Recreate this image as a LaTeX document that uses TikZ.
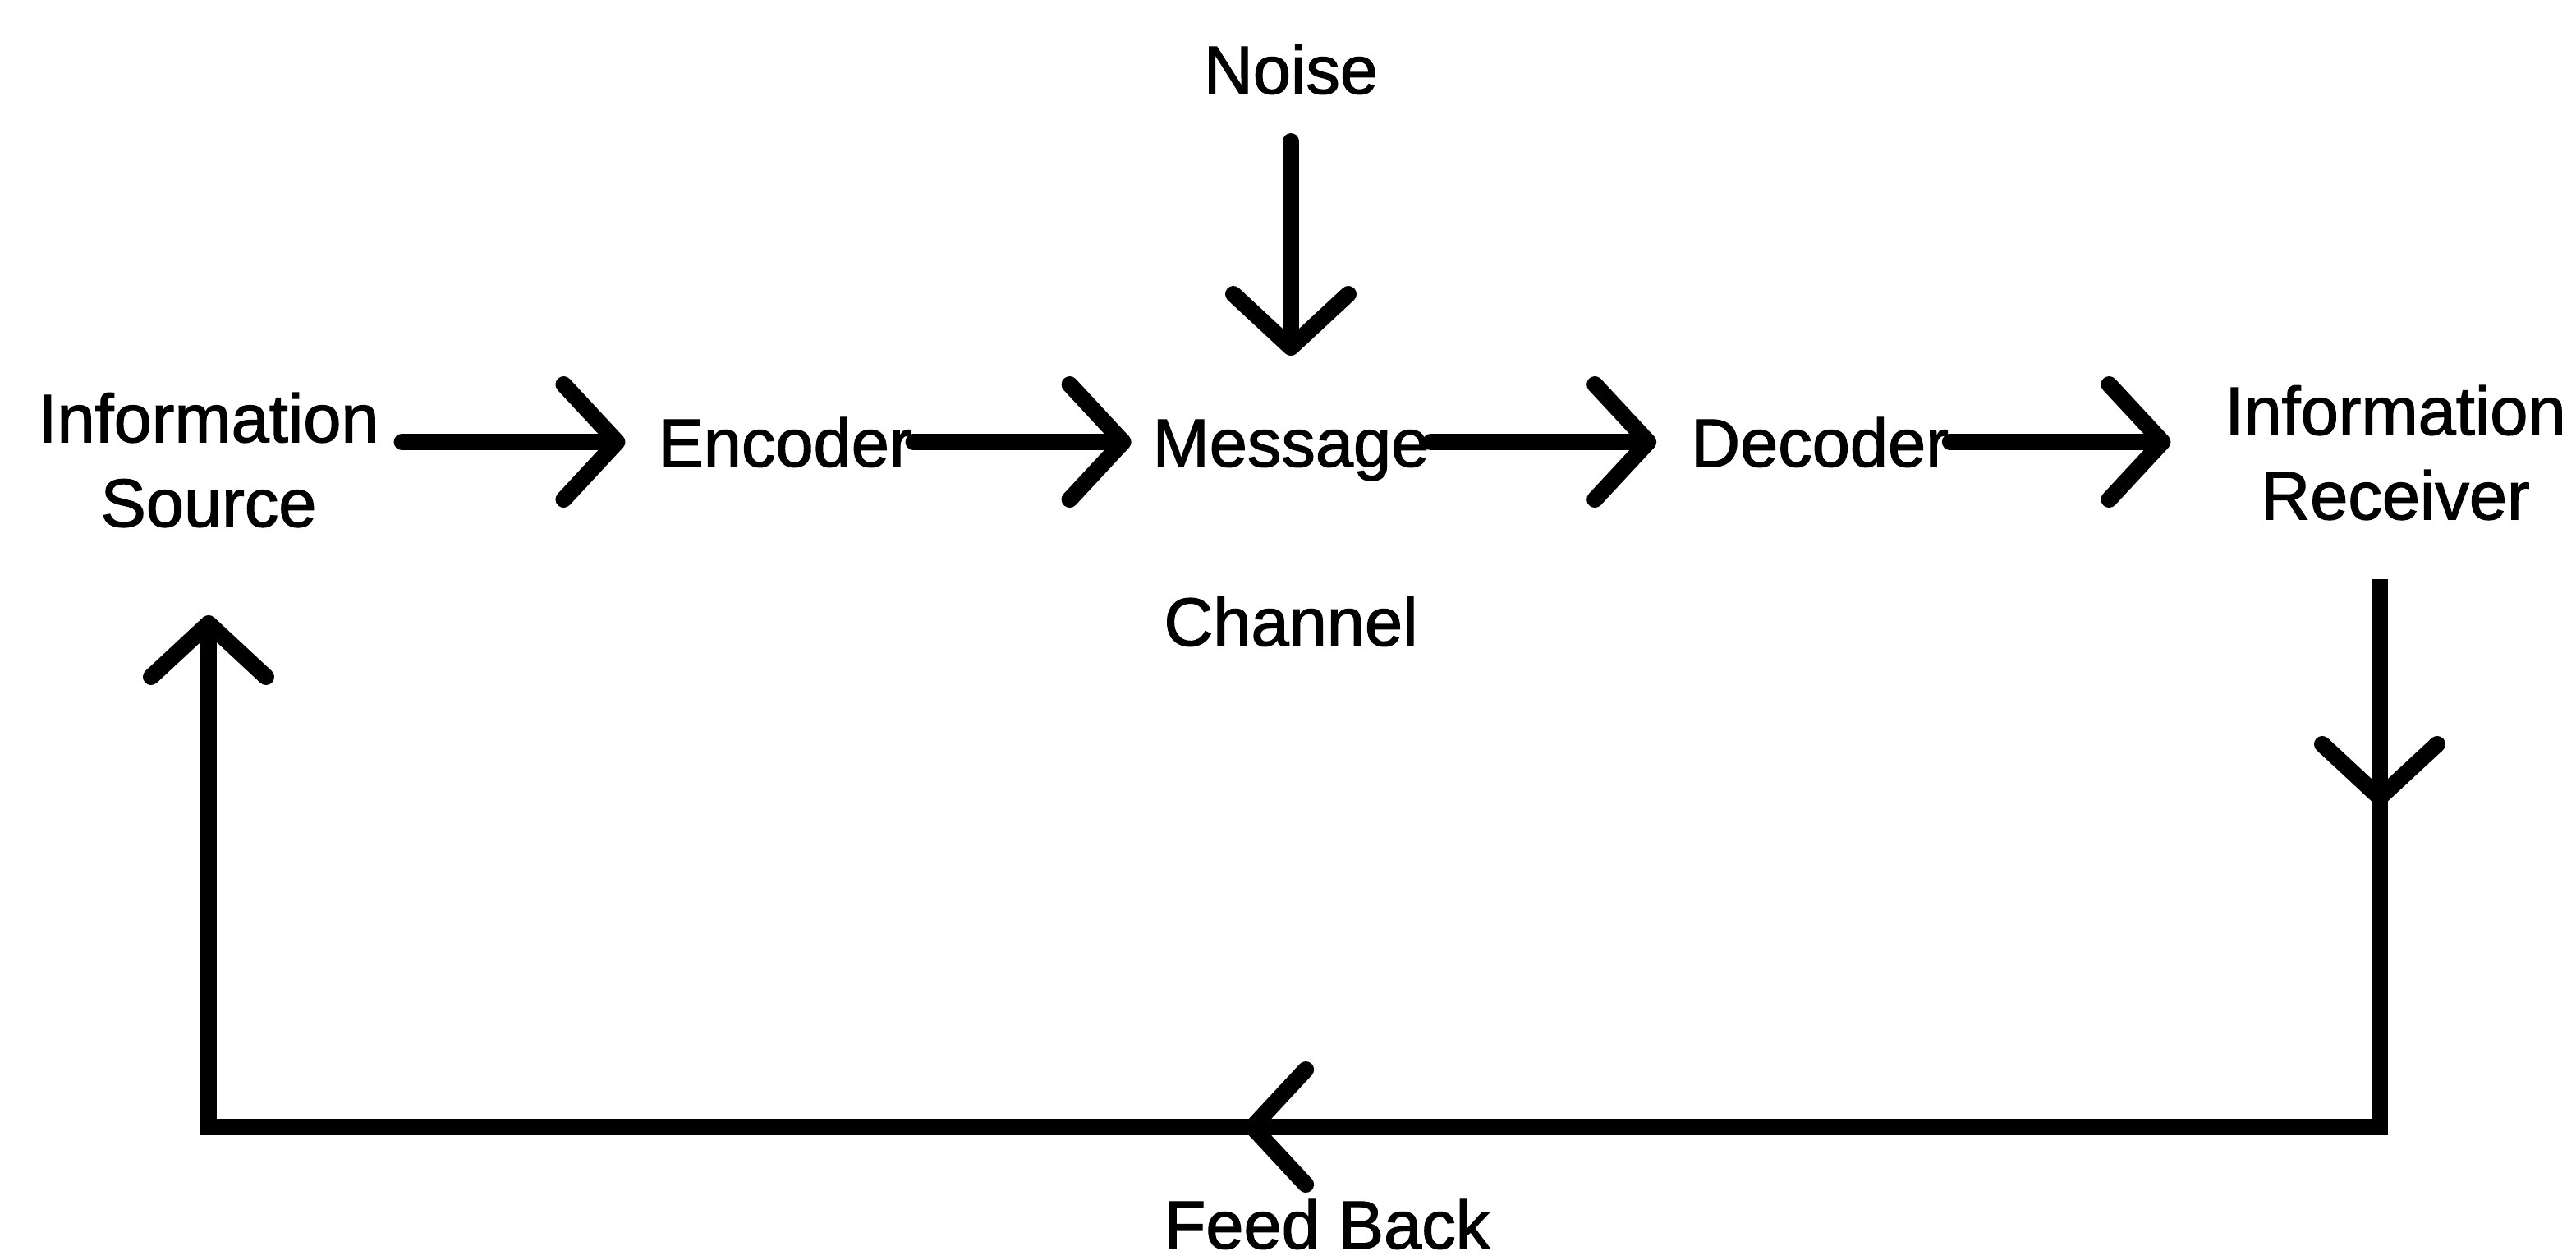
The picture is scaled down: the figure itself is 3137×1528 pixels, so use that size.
\documentclass[tikz,border=0pt]{standalone}
\usepackage{fontspec}
\setmainfont{Liberation Sans}[FakeBold=1.5]
\usetikzlibrary{arrows.meta,decorations.markings,calc}
\begin{document}
\begin{tikzpicture}[x=0.1pt,y=-0.1pt,
  lbl/.style={inner sep=0pt, font=\fontsize{8.3pt}{10.3pt}\selectfont, text height=6pt, text depth=0pt},
  lbltwo/.style={inner sep=0pt, font=\fontsize{8.3pt}{10.3pt}\selectfont, align=center},
  vtip/.tip={Straight Barb[length=6.5pt,width=14pt,round]},
  conn/.style={line width=2pt, line cap=round},
  arr/.style={conn,-vtip},
]
\useasboundingbox (0,0) rectangle (3137,1528);

\node[lbl] (noise) at (1572,84) {Noise};
\node[lbltwo] (src) at (254,560) {Information\\Source};
\node[lbl] (enc) at (956,538) {Encoder};
\node[lbl] (msg) at (1572,538) {Message};
\node[lbl] (dec) at (2216,538) {Decoder};
\node[lbltwo] (rcv) at (2917,551) {Information\\Receiver};
\node[lbl] (chan) at (1572,756) {Channel};
\node[lbl] (fb) at (1616,1490) {Feed Back};

\coordinate (fbR) at (2898,1372);
\coordinate (fbL) at (254,1372);

\draw[arr, shorten <=2.6pt, shorten >=3.8pt] (src.east |- enc.west) -- (enc.west);
\draw[arr, shorten >=2.4pt] (enc.east) -- (msg.west);
\draw[arr, shorten >=4pt] (msg.east) -- (dec.west);
\draw[arr, shorten >=6.4pt] (dec.east) -- (rcv.west |- dec.east);
\draw[arr, shorten <=5.6pt, shorten >=7.3pt] (noise) -- (msg);

\draw[arr, line cap=butt,
  decoration={markings,
    mark=at position 27.6pt with {\arrow{vtip}},
    mark=at position 205pt with {\arrow{vtip}}},
  postaction=decorate]
  ($(rcv.south -| fbR)+(0,70)$) -- (fbR) -- (fbL) -- ($(src.south -| fbL)+(0,105)$);
\end{tikzpicture}
\end{document}
